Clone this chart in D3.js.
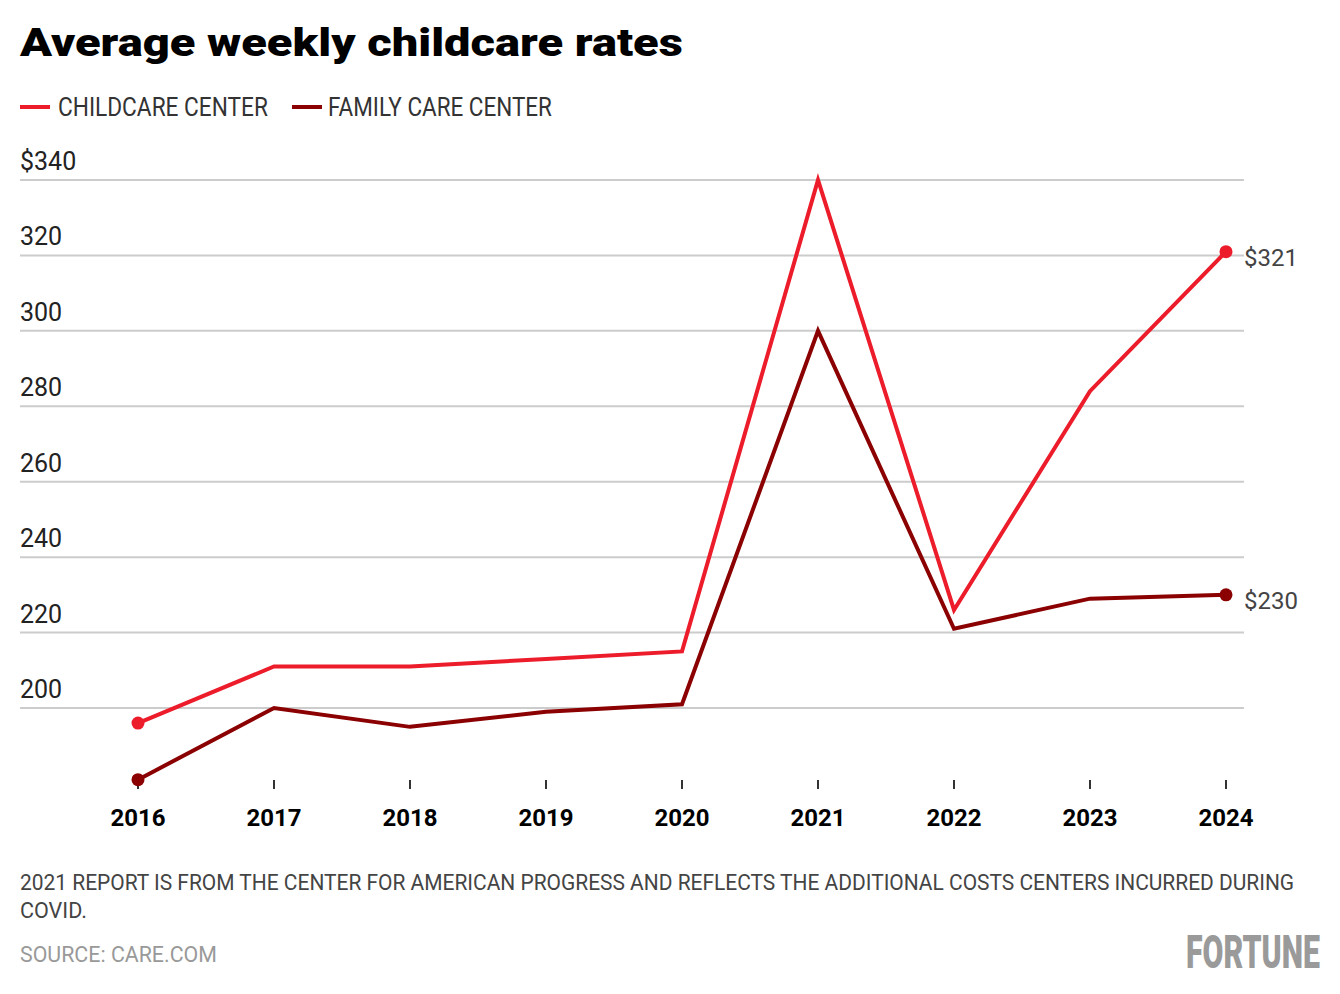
<!DOCTYPE html>
<html><head><meta charset="utf-8">
<script src="https://cdn.jsdelivr.net/npm/d3@7"></script>
<style>body{margin:0;background:#fff}svg{display:block}</style>
</head><body>
<svg id="c" width="1340" height="994"></svg>
<script>
const years = [2016,2017,2018,2019,2020,2021,2022,2023,2024];
const childcareCenter = [196,211,211,213,215,340,226,284,321];
const familyCareCenter = [181,200,195,199,201,300,221,229,230];
const yTicks = [200,220,240,260,280,300,320,340];
const seriesNames = ["CHILDCARE CENTER","FAMILY CARE CENTER"];
const colors = ["#ec1c2b","#8b0000"];

const svg = d3.select("#c");
const x = d3.scalePoint().domain(years).range([138,1226]);
const y = d3.scaleLinear().domain([200,340]).range([708,180]);

// place text at (px,py), horizontally squeezed to a given width
function fitText(str, px, py, width, attrs){
  const t = svg.append("text").text(str);
  Object.entries(attrs).forEach(([k,v])=>t.attr(k,v));
  const w = t.node().getComputedTextLength();
  const sx = width / w;
  t.attr("transform",`translate(${px},${py}) scale(${sx},1)`);
  return t;
}

fitText("Average weekly childcare rates",20,56,663,
  {"font-family":"Roboto","font-weight":900,"font-size":39,"fill":"#000"});

// legend
const legX = [[20,58,210],[292,328,224]];
seriesNames.forEach((n,i)=>{
  svg.append("line").attr("x1",legX[i][0]).attr("x2",legX[i][0]+30).attr("y1",107).attr("y2",107)
    .attr("stroke",colors[i]).attr("stroke-width",4);
  fitText(n,legX[i][1],116,legX[i][2],{"font-family":"Roboto","font-size":25,"fill":"#333"});
});

// gridlines
const g = svg.append("g");
yTicks.forEach(t=>{
  g.append("line").attr("x1",20).attr("x2",1244).attr("y1",y(t)).attr("y2",y(t))
    .attr("stroke","#cccccc").attr("stroke-width",2);
  g.append("text").attr("x",20).attr("y",y(t)-10).text(t===340?"$"+t:t)
    .attr("font-family","Roboto").attr("font-size",25).attr("fill","#222");
});

// x axis ticks
years.forEach(yr=>{
  svg.append("line").attr("x1",x(yr)).attr("x2",x(yr)).attr("y1",780).attr("y2",789)
    .attr("stroke","#333").attr("stroke-width",2);
  svg.append("text").attr("x",x(yr)).attr("y",826).attr("text-anchor","middle").text(yr)
    .attr("font-family","Roboto").attr("font-weight",700).attr("font-size",24).attr("fill","#000");
});

const line = d3.line().x((d,i)=>x(years[i])).y(d=>y(d));
[childcareCenter,familyCareCenter].forEach((s,i)=>{
  svg.append("path").attr("d",line(s)).attr("fill","none").attr("stroke",colors[i])
    .attr("stroke-width",4).attr("stroke-linejoin","miter");
  svg.append("circle").attr("cx",x(years[0])).attr("cy",y(s[0])).attr("r",6.5).attr("fill",colors[i]);
  const last = s.length-1;
  svg.append("circle").attr("cx",x(years[last])).attr("cy",y(s[last])).attr("r",6.5).attr("fill",colors[i]);
  svg.append("text").attr("x",1244).attr("y",y(s[last])+14).text("$"+s[last])
    .attr("font-family","Roboto").attr("font-size",24).attr("fill","#444");
});

fitText("2021 REPORT IS FROM THE CENTER FOR AMERICAN PROGRESS AND REFLECTS THE ADDITIONAL COSTS CENTERS INCURRED DURING",
  20,890,1275,{"font-family":"Roboto","font-size":22,"fill":"#444"});
fitText("COVID.",20,918,67,{"font-family":"Roboto","font-size":22,"fill":"#444"});
fitText("SOURCE: CARE.COM",20,962,197,{"font-family":"Roboto","font-size":22,"fill":"#999"});
fitText("FORTUNE",1186,968,134,{"font-family":"Roboto","font-weight":900,"font-size":46,"fill":"#9a9a9a"});
</script>
</body></html>
